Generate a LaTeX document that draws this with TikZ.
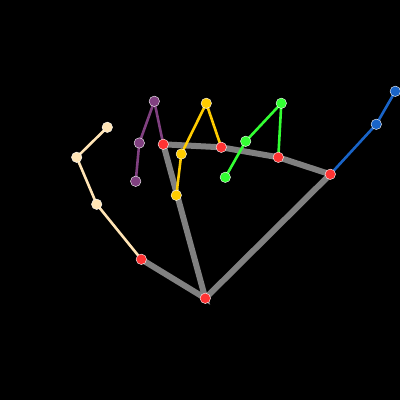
\documentclass[tikz,border=0pt]{standalone}
\usetikzlibrary{backgrounds}
\definecolor{jred}{RGB}{255,51,51}
\definecolor{jgray}{RGB}{128,128,128}
\definecolor{jpeach}{RGB}{255,228,181}
\definecolor{jpurple}{RGB}{128,64,128}
\definecolor{jyellow}{RGB}{255,204,0}
\definecolor{jgreen}{RGB}{51,255,51}
\definecolor{jblue}{RGB}{25,100,200}
\tikzset{
  joint/.style={circle,draw=white,line width=0.4pt,minimum size=10.5pt,inner sep=0pt},
  palm/.style={line width=6pt,draw=jgray},
  bone/.style={line width=2.6pt}
}
\begin{document}
\begin{tikzpicture}[x=1pt,y=-1pt]
\useasboundingbox (0,0) rectangle (400,400);
% palm joints
\node[joint,fill=jred] (w) at (205.3,298.3) {};
\node[joint,fill=jred] (p0) at (141.3,259.3) {};
\node[joint,fill=jred] (p1) at (163.3,144.3) {};
\node[joint,fill=jred] (p2) at (221.3,147.3) {};
\node[joint,fill=jred] (p3) at (278.3,157.3) {};
\node[joint,fill=jred] (p4) at (330.3,174.3) {};
% thumb
\node[joint,fill=jpeach] (t1) at (96.7,204.3) {};
\node[joint,fill=jpeach] (t2) at (76.7,157.3) {};
\node[joint,fill=jpeach] (t3) at (107.3,127.3) {};
% purple
\node[joint,fill=jpurple] (a1) at (154.3,101.3) {};
\node[joint,fill=jpurple] (a2) at (139.3,143) {};
\node[joint,fill=jpurple] (a3) at (135.7,181.3) {};
% yellow
\node[joint,fill=jyellow] (b1) at (206.3,103.3) {};
\node[joint,fill=jyellow] (b2) at (181.3,154) {};
\node[joint,fill=jyellow] (b3) at (176.3,195.3) {};
% green
\node[joint,fill=jgreen] (c1) at (281.3,103.3) {};
\node[joint,fill=jgreen] (c2) at (245.7,141.3) {};
\node[joint,fill=jgreen] (c3) at (225.3,177.3) {};
% blue
\node[joint,fill=jblue] (d1) at (376.3,124.3) {};
\node[joint,fill=jblue] (d2) at (395.3,91.3) {};
\begin{pgfonlayer}{background}
\fill[black] (0,0) rectangle (400,400);
\draw[palm] (p0.center) -- (w.center) -- (p1.center) -- (p2.center) -- (p3.center) -- (p4.center) -- (w.center);
\draw[bone,jpeach] (p0.center) -- (t1.center) -- (t2.center) -- (t3.center);
\draw[bone,jpurple] (p1.center) -- (a1.center) -- (a2.center) -- (a3.center);
\draw[bone,jyellow] (p2.center) -- (b1.center) -- (b2.center) -- (b3.center);
\draw[bone,jgreen] (p3.center) -- (c1.center) -- (c2.center) -- (c3.center);
\draw[bone,jblue] (p4.center) -- (d1.center) -- (d2.center);
\end{pgfonlayer}
\end{tikzpicture}
\end{document}
